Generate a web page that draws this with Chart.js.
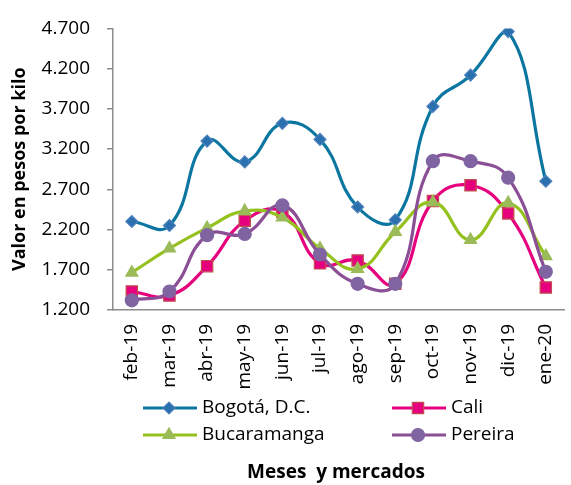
<!DOCTYPE html>
<html>
<head>
<meta charset="utf-8">
<script src="https://cdn.jsdelivr.net/npm/chart.js@4.4.1/dist/chart.umd.min.js"></script>
<style>
  html, body { margin: 0; padding: 0; background: #fff; overflow: hidden; }
  #wrap { position: relative; width: 583px; height: 485px; }
</style>
</head>
<body>
<div id="wrap"><canvas id="chart"></canvas></div>
<script>
// --- datos ---
const months = ['feb-19', 'mar-19', 'abr-19', 'may-19', 'jun-19', 'jul-19', 'ago-19', 'sep-19', 'oct-19', 'nov-19', 'dic-19', 'ene-20'];
const bogota = [2300, 2250, 3300, 3040, 3520, 3320, 2480, 2320, 3730, 4120, 4660, 2800];
const cali = [1430, 1380, 1745, 2310, 2420, 1780, 1815, 1525, 2555, 2750, 2400, 1480];
const bucaramanga = [1665, 1965, 2220, 2430, 2350, 1965, 1710, 2170, 2540, 2070, 2530, 1870];
const pereira = [1320, 1430, 2130, 2145, 2500, 1890, 1525, 1525, 3050, 3050, 2845, 1675];

const FONT = "'Open Sans', 'DejaVu Sans', sans-serif";

// miles con punto: 4700 -> 4.700
function miles(v) {
    const n = Math.round(v);
    return Math.floor(n / 1000) + '.' + String(n % 1000).padStart(3, '0');
}

// leyenda en dos columnas + título del eje x
const legendPlugin = {
    id: 'legendaDosCol',
    afterDraw(chart) {
        const ctx = chart.ctx;
        const cols = [143, 392];
        const rows = [408, 435];
        ctx.save();
        chart.data.datasets.forEach((ds, i) => {
            const x = cols[i % 2];
            const y = rows[Math.floor(i / 2)];
            ctx.strokeStyle = ds.borderColor;
            ctx.lineWidth = ds.borderWidth;
            ctx.beginPath();
            ctx.moveTo(x, y);
            ctx.lineTo(x + 54, y);
            ctx.stroke();
            ctx.fillStyle = ds.pointBackgroundColor;
            ctx.strokeStyle = ds.pointBorderColor;
            ctx.lineWidth = ds.pointBorderWidth;
            Chart.helpers.drawPoint(ctx, {
                pointStyle: ds.pointStyle,
                radius: ds.pointRadius,
                rotation: 0,
                borderWidth: ds.pointBorderWidth
            }, x + 26, y);
            ctx.fillStyle = '#000';
            ctx.font = '19px ' + FONT;
            ctx.textAlign = 'left';
            ctx.textBaseline = 'middle';
            ctx.fillText(ds.label, x + 59, y);
        });
        ctx.font = 'bold 19px ' + FONT;
        ctx.textAlign = 'center';
        ctx.fillText('Meses  y mercados', 336, 473);
        ctx.restore();
    }
};

function serie(label, data, line, fill, border, style, radius, order) {
    return {
        label: label,
        data: data,
        borderColor: line,
        borderWidth: 3.2,
        pointStyle: style,
        pointRadius: radius,
        pointHoverRadius: radius,
        pointBackgroundColor: fill,
        pointBorderColor: border,
        pointBorderWidth: 1.2,
        tension: 0.45,
        fill: false,
        order: order
    };
}

new Chart(document.getElementById('chart'), {
    type: 'line',
    data: {
        labels: months,
        datasets: [
            serie('Bogotá, D.C.', bogota, '#0B77A1', '#2A6FAE', '#4F81BD', 'rectRot', 6, 4),
            serie('Cali', cali, '#E6007E', '#E6007E', '#C0504D', 'rect', 8, 3),
            serie('Bucaramanga', bucaramanga, '#95C11F', '#9BBB59', '#9BBB59', 'triangle', 7, 2),
            serie('Pereira', pereira, '#8B4F96', '#8064A2', '#8064A2', 'circle', 6.5, 1)
        ]
    },
    options: {
        responsive: true,
        maintainAspectRatio: false,
        devicePixelRatio: 1,
        animation: false,
        layout: { padding: { top: 21, right: 0, bottom: 0, left: 0 } },
        plugins: {
            legend: { display: false },
            tooltip: { enabled: false }
        },
        scales: {
            x: {
                offset: true,
                grid: { drawOnChartArea: false, drawTicks: false },
                border: { color: '#8c8c8c', width: 1.5 },
                ticks: {
                    autoSkip: false,
                    minRotation: 90,
                    maxRotation: 90,
                    padding: 14,
                    color: '#000',
                    font: { family: FONT, size: 19 }
                },
                afterFit: (scale) => { scale.height = 175; }
            },
            y: {
                min: 1200,
                max: 4700,
                ticks: {
                    stepSize: 500,
                    padding: 17,
                    color: '#000',
                    font: { family: FONT, size: 19 },
                    callback: (v) => miles(v)
                },
                grid: { drawOnChartArea: false, drawTicks: true, tickLength: 6, color: '#8c8c8c', lineWidth: 1.5 },
                border: { color: '#8c8c8c', width: 1.5 },
                title: {
                    display: true,
                    text: 'Valor en pesos por kilo',
                    color: '#000',
                    font: { family: FONT, size: 18, weight: 'bold' },
                    padding: { top: 9, bottom: 0 }
                },
                afterFit: (scale) => { scale.width = 113; }
            }
        }
    },
    plugins: [legendPlugin]
});
</script>
</body>
</html>
